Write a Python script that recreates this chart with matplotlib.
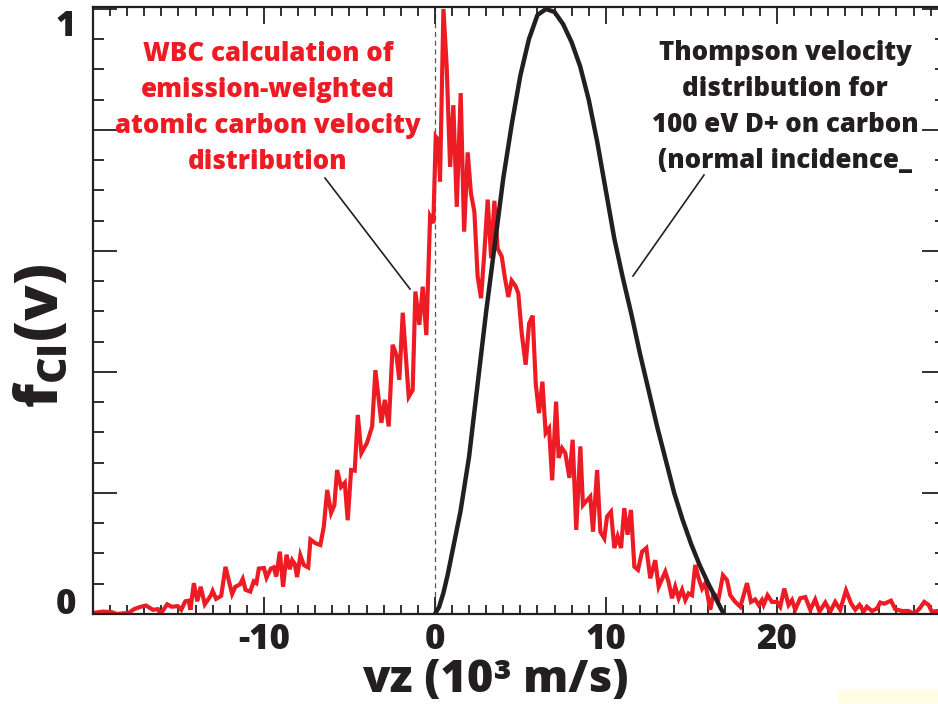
import numpy as np
import matplotlib
matplotlib.use('Agg')
import matplotlib.pyplot as plt
from matplotlib.lines import Line2D
from matplotlib.patches import Rectangle
from matplotlib.ticker import MultipleLocator, FixedLocator

# --- datos ---
# WBC: distribucion de velocidad del carbono atomico (ponderada por emision)
wbc_v = [-19.95, -19.4, -18.9, -18.6, -17.9, -17.6, -17.2, -16.9, -16.5, -16.2,
         -16.05, -15.66, -15.4, -15.04, -14.84, -14.6, -14.4, -14.3, -14.1, -13.9,
         -13.7, -13.46, -13.1, -13.0, -12.8, -12.5, -12.25, -11.86, -11.67, -11.4,
         -11.24, -11.08, -10.8, -10.6, -10.44, -10.3, -10.0, -9.85, -9.6, -9.43,
         -9.28, -9.07, -8.88, -8.68, -8.49, -8.35, -8.2, -8.06, -7.87, -7.67,
         -7.41, -7.28, -6.99, -6.7, -6.5, -6.3, -6.07, -5.88, -5.72, -5.49,
         -5.27, -5.1, -4.9, -4.69, -4.51, -4.3, -3.97, -3.67, -3.48, -3.13,
         -2.93, -2.7, -2.47, -2.25, -2.08, -1.88, -1.53, -1.3, -1.14, -0.91,
         -0.71, -0.5, -0.28, -0.09, 0.05, 0.2, 0.3, 0.5, 0.69, 0.89,
         1.08, 1.28, 1.51, 1.71, 1.92, 2.11, 2.31, 2.5, 2.7, 2.89,
         3.09, 3.29, 3.48, 3.67, 3.91, 4.1, 4.3, 4.49, 4.72, 4.88,
         5.08, 5.31, 5.51, 5.72, 5.9, 6.09, 6.29, 6.48, 6.68, 6.86,
         7.09, 7.24, 7.44, 7.63, 7.87, 8.06, 8.27, 8.51, 8.66, 8.9,
         9.09, 9.25, 9.49, 9.68, 9.91, 10.07, 10.3, 10.5, 10.69, 10.89,
         11.08, 11.27, 11.47, 11.67, 11.88, 12.12, 12.37, 12.6, 12.89, 13.09,
         13.48, 13.67, 13.87, 14.06, 14.26, 14.46, 14.65, 14.84, 15.04, 15.23,
         15.43, 15.63, 15.82, 16.11, 16.3, 16.6, 16.85, 17.09, 17.28, 17.57,
         17.87, 18.26, 18.49, 18.74, 18.94, 19.13, 19.23, 19.46, 19.72, 20.01,
         20.2, 20.44, 20.69, 20.89, 21.08, 21.37, 21.67, 21.96, 22.25, 22.5,
         22.84, 23.13, 23.42, 23.71, 24.05, 24.34, 24.59, 24.84, 25.08, 25.27,
         25.57, 25.86, 26.05, 26.29, 26.68, 26.93, 27.32, 27.71, 28.04, 28.35,
         28.63, 28.88, 29.07, 29.44]
wbc_f = [0.002, 0.004, 0.003, 0.0, 0.002, 0.008, 0.012, 0.014, 0.007, 0.008,
         0.0, 0.016, 0.012, 0.013, 0.007, 0.021, 0.022, 0.007, 0.051, 0.021,
         0.045, 0.016, 0.031, 0.038, 0.025, 0.030, 0.078, 0.033, 0.045, 0.049,
         0.058, 0.040, 0.037, 0.054, 0.051, 0.075, 0.076, 0.060, 0.075, 0.077,
         0.062, 0.103, 0.045, 0.098, 0.074, 0.089, 0.083, 0.061, 0.097, 0.081,
         0.077, 0.123, 0.117, 0.114, 0.144, 0.205, 0.167, 0.180, 0.238, 0.210,
         0.217, 0.155, 0.238, 0.237, 0.329, 0.266, 0.283, 0.310, 0.403, 0.316,
         0.354, 0.310, 0.445, 0.428, 0.387, 0.498, 0.359, 0.370, 0.533, 0.478,
         0.541, 0.461, 0.657, 0.646, 0.789, 0.783, 0.715, 1.0, 0.905, 0.739,
         0.841, 0.673, 0.861, 0.632, 0.763, 0.695, 0.665, 0.558, 0.522, 0.596,
         0.685, 0.588, 0.683, 0.604, 0.591, 0.555, 0.524, 0.551, 0.542, 0.530,
         0.464, 0.412, 0.480, 0.493, 0.381, 0.332, 0.384, 0.299, 0.307, 0.221,
         0.351, 0.258, 0.274, 0.266, 0.225, 0.288, 0.139, 0.277, 0.180, 0.188,
         0.194, 0.136, 0.238, 0.136, 0.125, 0.161, 0.169, 0.109, 0.128, 0.109,
         0.175, 0.131, 0.172, 0.078, 0.073, 0.103, 0.109, 0.059, 0.089, 0.045,
         0.070, 0.053, 0.026, 0.045, 0.026, 0.040, 0.023, 0.034, 0.031, 0.081,
         0.059, 0.042, 0.051, 0.007, 0.034, 0.026, 0.064, 0.056, 0.031, 0.020,
         0.012, 0.051, 0.020, 0.024, 0.015, 0.023, 0.015, 0.031, 0.020, 0.020,
         0.012, 0.042, 0.015, 0.023, 0.007, 0.026, 0.028, 0.007, 0.024, 0.004,
         0.019, 0.004, 0.020, 0.007, 0.039, 0.018, 0.007, 0.015, 0.004, 0.012,
         0.005, 0.009, 0.019, 0.017, 0.022, 0.008, 0.005, 0.005, 0.0, 0.009,
         0.020, 0.015, 0.004, 0.005]

# Thompson: 100 eV D+ sobre carbono (incidencia normal)
thompson_v = [0.0, 0.25, 0.5, 0.75, 1.0, 1.5, 2.0, 2.5, 3.0, 3.5, 4.0, 4.5, 5.0,
              5.5, 6.0, 6.5, 7.0, 7.5, 8.0, 8.5, 9.0, 9.5, 10.0, 10.5, 11.0,
              11.5, 12.0, 12.5, 13.0, 13.5, 14.0, 14.5, 15.0, 15.5, 16.0, 16.5, 16.9]
thompson_f = [0.0, 0.012, 0.035, 0.065, 0.10, 0.17, 0.26, 0.38, 0.50, 0.61, 0.72,
              0.81, 0.89, 0.95, 0.99, 1.0, 0.995, 0.975, 0.945, 0.905, 0.85, 0.78,
              0.70, 0.62, 0.555, 0.495, 0.43, 0.37, 0.31, 0.255, 0.20, 0.155,
              0.115, 0.08, 0.05, 0.022, 0.0]

xtick_vals = [-10, 0, 10, 20]
ytick_vals = [0, 0.2, 0.4, 0.6, 0.8, 1.0]
ytick_labels = ['0', '', '', '', '', '1']

wbc_text = ['WBC calculation of', 'emission-weighted',
            'atomic carbon velocity', 'distribution']
thompson_text = ['Thompson velocity', 'distribution for',
                 '100 eV D+ on carbon', '(normal incidence_']

RED = '#ED1C24'
INK = '#231F20'
W, H = 938, 704
WT = 800  # grosor de letra

plt.rcParams['font.family'] = ['Open Sans', 'DejaVu Sans']
plt.rcParams['font.weight'] = WT
plt.rcParams['axes.unicode_minus'] = False
plt.rcParams['mathtext.fontset'] = 'custom'
plt.rcParams['mathtext.rm'] = 'Open Sans:extrabold'
plt.rcParams['mathtext.it'] = 'Open Sans:extrabold'
plt.rcParams['mathtext.bf'] = 'Open Sans:extrabold'

fig = plt.figure(figsize=(W / 100, H / 100), dpi=100)
ax = fig.add_axes([93 / W, 1 - 614 / H, (946 - 93) / W, (614 - 7) / H])

ax.axvline(0, color='#555555', lw=0.9, ls=(0, (4, 3)), zorder=1)
ax.plot(thompson_v, thompson_f, color=INK, lw=3.2, solid_capstyle='butt', zorder=3)
ax.plot(wbc_v, wbc_f, color=RED, lw=3.0, solid_joinstyle='miter', zorder=2)

ax.set_xlim(-20, 29.9)
ax.set_ylim(0, 1.0033)

ax.xaxis.set_major_locator(FixedLocator(xtick_vals))
ax.xaxis.set_minor_locator(MultipleLocator(1))
ax.set_yticks(ytick_vals)
ax.set_yticklabels(ytick_labels)
ax.yaxis.set_minor_locator(MultipleLocator(0.05))

ax.tick_params(axis='both', which='both', direction='in', top=True, right=True,
               color=INK, width=1.3, labelcolor=INK)
ax.tick_params(axis='x', which='major', length=12, labelsize=25, pad=6)
ax.tick_params(axis='x', which='minor', length=6.5)
ax.tick_params(axis='y', which='major', length=17, labelsize=25, pad=12)
ax.tick_params(axis='y', which='minor', length=8)
for lab in ax.get_yticklabels():
    if lab.get_text() == '1':
        lab.set_va('top')
    elif lab.get_text() == '0':
        lab.set_va('baseline')
for lab in ax.get_xticklabels() + ax.get_yticklabels():
    lab.set_fontweight(WT)

for sp in ax.spines.values():
    sp.set_color(INK)
    sp.set_linewidth(1.6)

# etiquetas de ejes
fig.text(495 / W, 1 - 692 / H, 'vz (10\u00b3 m/s)', ha='center', va='baseline',
         fontsize=32.5, fontweight=WT, color=INK)
fig.text(42 / W, 1 - 336 / H, r'$f_{CI}(v)$', ha='center', va='center',
         rotation=90, fontsize=42, color=INK)

# anotaciones
for i, line in enumerate(wbc_text):
    fig.text(268 / W, 1 - (61 + 36 * i) / H, line, ha='center', va='baseline',
             fontsize=18.6, fontweight=WT, color=RED)
for i, line in enumerate(thompson_text):
    fig.text(785 / W, 1 - (60 + 36 * i) / H, line, ha='center', va='baseline',
             fontsize=18.6, fontweight=WT, color=INK)

fig.add_artist(Line2D([325 / W, 410 / W], [1 - 178 / H, 1 - 289 / H],
                      color=INK, lw=1.2))
fig.add_artist(Line2D([704 / W, 633 / W], [1 - 175 / H, 1 - 276 / H],
                      color=INK, lw=1.2))

# recuadro amarillo palido abajo a la derecha
fig.add_artist(Rectangle((838 / W, 0), 100 / W, 14 / H, transform=fig.transFigure,
                         facecolor='#FFFDE3', edgecolor='none'))

fig.savefig('out.png', dpi=100)
